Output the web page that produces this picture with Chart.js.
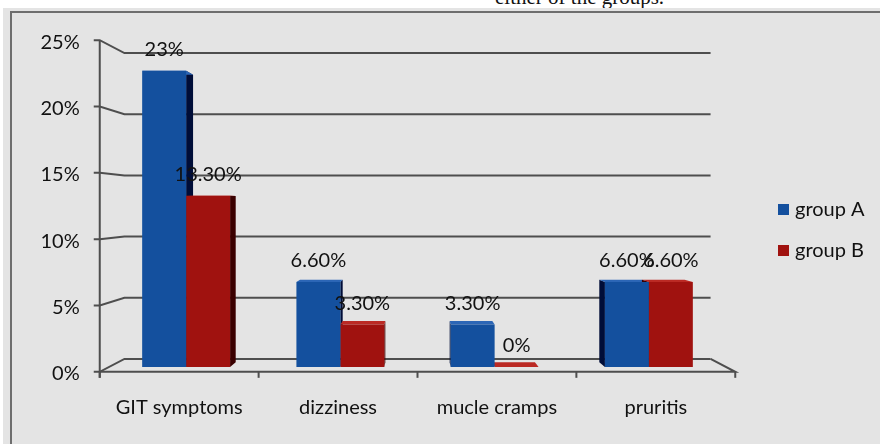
<!DOCTYPE html>
<html>
<head>
<meta charset="utf-8">
<script src="https://cdn.jsdelivr.net/npm/chart.js@4.4.1/dist/chart.umd.min.js"></script>
<style>
    body { margin: 0; background: #fff; }
    #wrap { position: relative; width: 880px; height: 444px; overflow: hidden; }
    #caption { position: absolute; left: 495px; top: -13px; font: 21px "Liberation Serif", serif; color: #111; line-height: 20px; }
    #panel { position: absolute; left: 3px; top: 8px; right: 0; bottom: 0; background: #e4e4e4; }
    #frame { position: absolute; left: 10px; top: 11px; width: 900px; height: 460px; border-left: 2px solid #6e6e6e; border-top: 2px solid #6e6e6e; }
    #chart { position: absolute; left: 0; top: 0; }
</style>
</head>
<body>
<div id="wrap">
    <div id="caption">either of the groups.</div>
    <div id="panel"></div>
    <div id="frame"></div>
    <canvas id="chart" width="880" height="444"></canvas>
</div>
<script>
const categories = ['GIT symptoms', 'dizziness', 'mucle cramps', 'pruritis'];
const seriesNames = ['group A', 'group B'];
const groupA = [23, 6.6, 3.3, 6.6];
const groupB = [13.3, 3.3, 0, 6.6];
const yTicks = [0, 5, 10, 15, 20, 25];

const FRONT = 1.03, BACK = 0.95, DEPTH = 0.97;
const labelFont = '20px Lato, "Open Sans", sans-serif';
const faces = [
    { front: '#14509e', side: '#000d38', top: '#2c66b6' },
    { front: '#a0120f', side: '#3a0000', top: '#bb2a24' }
];

function pct(v) {
    return Number.isInteger(v) ? v + '%' : v.toFixed(2) + '%';
}

const perspective = {
    id: 'perspective',
    beforeDatasetsDraw(chart) {
        const { ctx, chartArea, scales: { x, y } } = chart;
        const vx = (chartArea.left + chartArea.right) / 2;
        const vy = y.getPixelForValue(12.5);
        const at = (px, py, s) => [vx + (px - vx) * s, vy + (py - vy) * s];

        ctx.save();
        ctx.strokeStyle = '#4e4e4e';
        ctx.lineWidth = 2;
        // back wall grid with left connectors
        yTicks.forEach(v => {
            const py = y.getPixelForValue(v);
            const f = at(chartArea.left, py, FRONT);
            const b = at(chartArea.left, py, BACK);
            const br = at(chartArea.right, py, BACK);
            ctx.beginPath();
            ctx.moveTo(f[0] - 6, f[1]);
            ctx.lineTo(f[0], f[1]);
            ctx.lineTo(b[0], b[1]);
            ctx.lineTo(br[0], br[1]);
            ctx.stroke();
        });
        // floor front edge and right side
        const py0 = y.getPixelForValue(0);
        const fl = at(chartArea.left, py0, FRONT);
        const fr = at(chartArea.right, py0, FRONT);
        const brr = at(chartArea.right, py0, BACK);
        ctx.beginPath();
        ctx.moveTo(fl[0], fl[1]);
        ctx.lineTo(fr[0], fr[1]);
        ctx.lineTo(brr[0], brr[1]);
        ctx.stroke();
        // vertical axis
        const ft = at(chartArea.left, y.getPixelForValue(yTicks[yTicks.length - 1]), FRONT);
        ctx.beginPath();
        ctx.moveTo(ft[0], ft[1]);
        ctx.lineTo(fl[0], fl[1] + 6);
        ctx.stroke();
        // category ticks
        const step = (chartArea.right - chartArea.left) / categories.length;
        for (let i = 0; i <= categories.length; i++) {
            const t = at(chartArea.left + i * step, py0, FRONT);
            ctx.beginPath();
            ctx.moveTo(t[0], t[1]);
            ctx.lineTo(t[0], t[1] + 6);
            ctx.stroke();
        }

        // labels on the front plane
        ctx.fillStyle = '#111';
        ctx.font = labelFont;
        ctx.textAlign = 'right';
        ctx.textBaseline = 'middle';
        yTicks.forEach(v => {
            const f = at(chartArea.left, y.getPixelForValue(v), FRONT);
            ctx.fillText(v + '%', f[0] - 20, f[1] + 2);
        });
        ctx.textAlign = 'center';
        categories.forEach((c, i) => {
            const f = at(x.getPixelForValue(i), py0, FRONT);
            ctx.fillText(c, f[0], f[1] + 36);
        });

        // bar side and top faces, drawn behind the front faces
        chart.data.datasets.forEach((ds, di) => {
            chart.getDatasetMeta(di).data.forEach(bar => {
                const p = bar.getProps(['x', 'y', 'base', 'width'], true);
                const x1 = p.x - p.width / 2, x2 = p.x + p.width / 2;
                const xe = p.x < vx ? x2 : x1;
                const s1 = at(xe, p.y, DEPTH), s2 = at(xe, p.base, DEPTH);
                ctx.fillStyle = faces[di].side;
                ctx.beginPath();
                ctx.moveTo(xe, p.y);
                ctx.lineTo(s1[0], s1[1]);
                ctx.lineTo(s2[0], s2[1]);
                ctx.lineTo(xe, p.base);
                ctx.closePath();
                ctx.fill();
                const t1 = at(x1, p.y, DEPTH), t2 = at(x2, p.y, DEPTH);
                ctx.fillStyle = faces[di].top;
                ctx.beginPath();
                ctx.moveTo(x1, p.y);
                ctx.lineTo(x2, p.y);
                ctx.lineTo(t2[0], t2[1]);
                ctx.lineTo(t1[0], t1[1]);
                ctx.closePath();
                ctx.fill();
            });
        });
        ctx.restore();
    },
    afterDatasetsDraw(chart) {
        const { ctx } = chart;
        ctx.save();
        ctx.fillStyle = '#111';
        ctx.font = labelFont;
        ctx.textAlign = 'center';
        ctx.textBaseline = 'middle';
        chart.data.datasets.forEach((ds, di) => {
            chart.getDatasetMeta(di).data.forEach((bar, i) => {
                ctx.fillText(pct(ds.data[i]), bar.x, bar.y - 21);
            });
        });
        // legend
        ctx.textAlign = 'left';
        chart.data.datasets.forEach((ds, di) => {
            const top = 204 + di * 41;
            ctx.fillStyle = ds.backgroundColor;
            ctx.fillRect(778, top, 11, 11);
            ctx.fillStyle = '#111';
            ctx.fillText(ds.label, 795, top + 6);
        });
        ctx.restore();
    }
};

const ctx = document.getElementById('chart').getContext('2d');
const myChart = new Chart(ctx, {
    type: 'bar',
    data: {
        labels: categories,
        datasets: [{
            label: seriesNames[0],
            data: groupA,
            backgroundColor: faces[0].front,
            borderWidth: 0
        }, {
            label: seriesNames[1],
            data: groupB,
            backgroundColor: faces[1].front,
            borderWidth: 0
        }]
    },
    options: {
        responsive: false,
        animation: false,
        categoryPercentage: 0.57,
        barPercentage: 1.0,
        layout: {
            padding: { left: 109, right: 154, top: 45, bottom: 77 }
        },
        scales: {
            x: { display: false },
            y: { display: false, min: 0, max: 25, ticks: { stepSize: 5 } }
        },
        plugins: {
            legend: { display: false },
            tooltip: { enabled: false }
        }
    },
    plugins: [perspective]
});
</script>
</body>
</html>
